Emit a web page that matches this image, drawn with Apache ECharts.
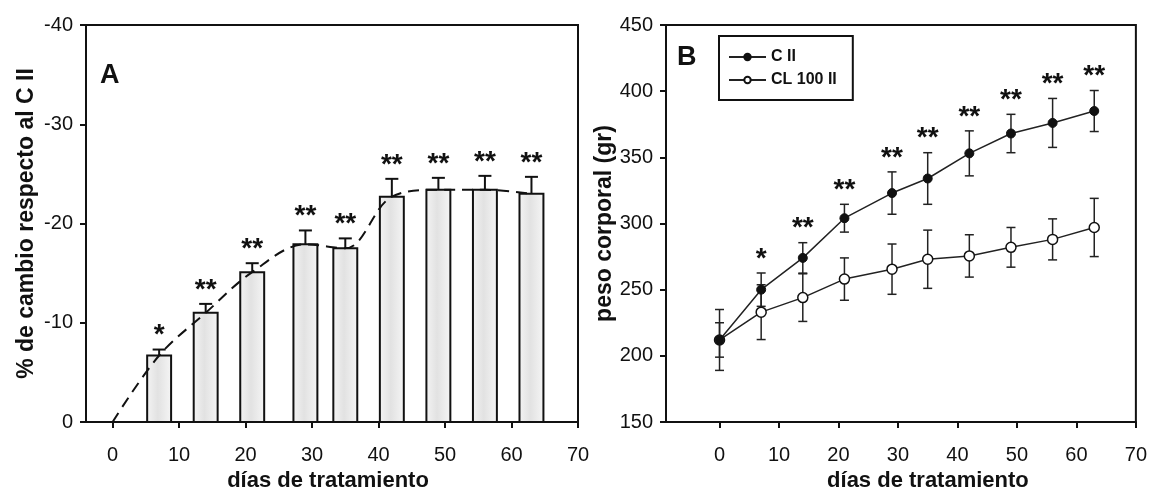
<!DOCTYPE html>
<html>
<head>
<meta charset="utf-8">
<script src="https://cdn.jsdelivr.net/npm/echarts@6/dist/echarts.min.js"></script>
<style>
  html, body { margin: 0; padding: 0; background: #ffffff; }
  #chart { width: 1150px; height: 497px; }
</style>
</head>
<body>
<div id="chart"></div>
<script>
// ---- Panel A: % change of body weight relative to C II ----
const diasA = [7, 14, 21, 29, 35, 42, 49, 56, 63];
const cambio = [-6.7, -11.0, -15.1, -17.9, -17.5, -22.7, -23.4, -23.4, -23.0];
const cambioErr = [0.6, 0.9, 0.9, 1.4, 1.0, 1.8, 1.2, 1.4, 1.7];
const signifA = ['*', '**', '**', '**', '**', '**', '**', '**', '**'];
const ticksXA = [0, 10, 20, 30, 40, 50, 60, 70];

// ---- Panel B: body weight (g) ----
const diasB = [0, 7, 14, 21, 29, 35, 42, 49, 56, 63];
const pesoC = [212, 250, 274, 304, 323, 334, 353, 368, 376, 385];
const errC = [13, 12.6, 11.5, 10.5, 16, 19.5, 17, 14.5, 18.5, 15.5];
const pesoCL = [212, 233, 244, 258, 265.5, 273, 275.5, 282, 288, 297];
const errCL = [23, 20.7, 18, 16, 19, 22, 16, 15, 15.5, 22];
const signifB = ['', '*', '**', '**', '**', '**', '**', '**', '**', '**'];
const ticksXB = [0, 10, 20, 30, 40, 50, 60, 70];

const serieC = 'C II';
const serieCL = 'CL 100 II';

const SANS = "'Liberation Sans', Arial, sans-serif";

// table rows built from the arrays above
const filasA = diasA.map((d, i) => [d, cambio[i], cambioErr[i], i]);
const tendencia = [[0, 0]].concat(diasA.map((d, i) => [d, cambio[i]]));
const filasC = diasB.map((d, i) => [d, pesoC[i], errC[i], i]);
const filasCL = diasB.map((d, i) => [d, pesoCL[i], errCL[i], i]);

const BAR_DAYS = 3.6; // bar width in axis units

function renderBar(params, api) {
  const x = api.value(0), v = api.value(1);
  const p0 = api.coord([x - BAR_DAYS / 2, v]);
  const p1 = api.coord([x + BAR_DAYS / 2, 0]);
  return {
    type: 'rect',
    shape: { x: p0[0], y: Math.min(p0[1], p1[1]), width: p1[0] - p0[0], height: Math.abs(p1[1] - p0[1]) },
    style: {
      fill: new echarts.graphic.LinearGradient(0, 0, 1, 0, [
        { offset: 0, color: '#f4f4f4' },
        { offset: 0.45, color: '#e2e2e2' },
        { offset: 1, color: '#f6f6f6' }
      ]),
      stroke: '#111', lineWidth: 2
    }
  };
}

// upper whisker of the bars (values are negative; "up" is more negative)
function renderErrA(params, api) {
  const x = api.value(0), v = api.value(1), e = api.value(2);
  const a = api.coord([x, v]);
  const b = api.coord([x, v - e]);
  const hw = 6.5;
  const ls = { stroke: '#111', lineWidth: 2 };
  return {
    type: 'group',
    children: [
      { type: 'line', shape: { x1: a[0], y1: a[1], x2: b[0], y2: b[1] }, style: ls },
      { type: 'line', shape: { x1: b[0] - hw, y1: b[1], x2: b[0] + hw, y2: b[1] }, style: ls }
    ]
  };
}

function renderStarsA(params, api) {
  const x = api.value(0), v = api.value(1), e = api.value(2), i = api.value(3);
  const b = api.coord([x, v - e]);
  return {
    type: 'text',
    style: {
      text: signifA[i], x: b[0], y: b[1] - 14,
      align: 'center', verticalAlign: 'middle',
      font: "bold 28px " + SANS, fill: '#111'
    }
  };
}

function renderErrB(params, api) {
  const x = api.value(0), v = api.value(1), e = api.value(2);
  const a = api.coord([x, v - e]);
  const b = api.coord([x, v + e]);
  const hw = 4.5;
  const ls = { stroke: '#222', lineWidth: 1.5 };
  return {
    type: 'group',
    children: [
      { type: 'line', shape: { x1: a[0], y1: a[1], x2: b[0], y2: b[1] }, style: ls },
      { type: 'line', shape: { x1: a[0] - hw, y1: a[1], x2: a[0] + hw, y2: a[1] }, style: ls },
      { type: 'line', shape: { x1: b[0] - hw, y1: b[1], x2: b[0] + hw, y2: b[1] }, style: ls }
    ]
  };
}

function renderStarsB(params, api) {
  const x = api.value(0), v = api.value(1), e = api.value(2), i = api.value(3);
  const b = api.coord([x, v + e]);
  return {
    type: 'text',
    style: {
      text: signifB[i], x: b[0], y: b[1] - 14,
      align: 'center', verticalAlign: 'middle',
      font: "bold 28px " + SANS, fill: '#111'
    }
  };
}

const tickStyle = { show: true, inside: false, length: 6, lineStyle: { color: '#111', width: 2 } };
const tickLabel = { color: '#111', fontFamily: SANS, fontSize: 20 };
const xLine = { show: true, onZero: false, lineStyle: { color: '#111', width: 2 } };
const yLine = { show: true, onZero: false, lineStyle: { color: '#111', width: 2 } };

const chart = echarts.init(document.getElementById('chart'), null, { renderer: 'canvas' });

chart.setOption({
  backgroundColor: '#ffffff',
  animation: false,
  grid: [
    { left: 86, right: 572, top: 25, bottom: 75, show: true, borderColor: '#111', borderWidth: 2, containLabel: false },
    { left: 666, right: 9, top: 25, bottom: 75, show: true, borderColor: '#111', borderWidth: 2, containLabel: false }
  ],
  xAxis: [
    {
      type: 'value', gridIndex: 0, min: -4, max: 70,
      axisLine: xLine,
      axisTick: Object.assign({ customValues: ticksXA }, tickStyle),
      axisLabel: Object.assign({ customValues: ticksXA, margin: 23 }, tickLabel),
      splitLine: { show: false },
      name: 'días de tratamiento', nameLocation: 'middle', nameGap: 47,
      nameTextStyle: { color: '#111', fontFamily: SANS, fontWeight: 'bold', fontSize: 22, padding: [0, 8, 0, 0] }
    },
    {
      type: 'value', gridIndex: 1, min: -9, max: 70,
      axisLine: xLine,
      axisTick: Object.assign({ customValues: ticksXB }, tickStyle),
      axisLabel: Object.assign({ customValues: ticksXB, margin: 23 }, tickLabel),
      splitLine: { show: false },
      name: 'días de tratamiento', nameLocation: 'middle', nameGap: 47,
      nameTextStyle: { color: '#111', fontFamily: SANS, fontWeight: 'bold', fontSize: 22, padding: [0, 0, 0, 54] }
    }
  ],
  yAxis: [
    {
      type: 'value', gridIndex: 0, min: -40, max: 0, interval: 10, inverse: true,
      axisLine: yLine,
      axisTick: tickStyle,
      axisLabel: Object.assign({ margin: 13 }, tickLabel),
      splitLine: { show: false },
      name: '% de cambio respecto al C II', nameLocation: 'middle', nameGap: 48,
      nameTextStyle: { color: '#111', fontFamily: SANS, fontWeight: 'bold', fontSize: 23 }
    },
    {
      type: 'value', gridIndex: 1, min: 150, max: 450, interval: 50,
      axisLine: yLine,
      axisTick: tickStyle,
      axisLabel: Object.assign({ margin: 13 }, tickLabel),
      splitLine: { show: false },
      name: 'peso corporal (gr)', nameLocation: 'middle', nameGap: 43,
      nameTextStyle: { color: '#111', fontFamily: SANS, fontWeight: 'bold', fontSize: 23 }
    }
  ],
  legend: {
    data: [serieC, serieCL],
    orient: 'vertical',
    left: 719, top: 36,
    padding: [13, 16, 12, 9],
    itemGap: 7,
    itemWidth: 37, itemHeight: 8,
    borderColor: '#111', borderWidth: 2,
    textStyle: { color: '#111', fontFamily: SANS, fontWeight: 'bold', fontSize: 16 }
  },
  graphic: [
    { type: 'text', left: 100, top: 62, style: { text: 'A', font: "bold 27px " + SANS, fill: '#111' } },
    { type: 'text', left: 677, top: 44, style: { text: 'B', font: "bold 27px " + SANS, fill: '#111' } }
  ],
  series: [
    // Panel A
    {
      type: 'custom', xAxisIndex: 0, yAxisIndex: 0, data: filasA,
      renderItem: renderBar, z: 2, silent: true
    },
    {
      type: 'line', xAxisIndex: 0, yAxisIndex: 0, data: tendencia,
      smooth: 0.35, showSymbol: false, symbol: 'none',
      lineStyle: { color: '#111', width: 2, type: [11, 7] }, z: 3, silent: true
    },
    {
      type: 'custom', xAxisIndex: 0, yAxisIndex: 0, data: filasA,
      renderItem: renderErrA, z: 4, silent: true
    },
    {
      type: 'custom', xAxisIndex: 0, yAxisIndex: 0, data: filasA,
      renderItem: renderStarsA, z: 5, silent: true
    },
    // Panel B
    {
      type: 'custom', xAxisIndex: 1, yAxisIndex: 1, data: filasCL,
      renderItem: renderErrB, z: 2, silent: true
    },
    {
      type: 'custom', xAxisIndex: 1, yAxisIndex: 1, data: filasC,
      renderItem: renderErrB, z: 2, silent: true
    },
    {
      name: serieCL, type: 'line', xAxisIndex: 1, yAxisIndex: 1,
      data: diasB.map((d, i) => [d, pesoCL[i]]),
      symbol: 'circle', symbolSize: 10,
      itemStyle: { color: '#ffffff', borderColor: '#111', borderWidth: 1.5 },
      lineStyle: { color: '#222', width: 1.5 }, z: 3, silent: true
    },
    {
      name: serieC, type: 'line', xAxisIndex: 1, yAxisIndex: 1,
      data: diasB.map((d, i) => [d, pesoC[i]]),
      symbol: 'circle', symbolSize: 9,
      itemStyle: { color: '#111', borderColor: '#111', borderWidth: 1 },
      lineStyle: { color: '#222', width: 1.5 }, z: 4, silent: true
    },
    {
      type: 'custom', xAxisIndex: 1, yAxisIndex: 1, data: filasC,
      renderItem: renderStarsB, z: 5, silent: true
    }
  ]
});
</script>
</body>
</html>
